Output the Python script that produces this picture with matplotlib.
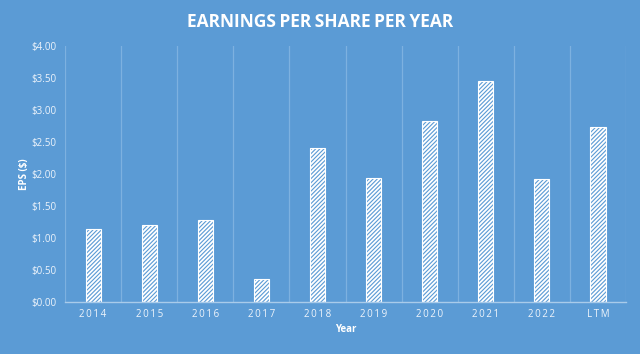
import matplotlib
matplotlib.use("Agg")
import matplotlib.pyplot as plt
from matplotlib.ticker import FuncFormatter, MultipleLocator

categories = ["2014", "2015", "2016", "2017", "2018", "2019", "2020", "2021", "2022", "LTM"]
eps = [1.13, 1.20, 1.28, 0.36, 2.40, 1.94, 2.82, 3.45, 1.92, 2.73]

BG = "#5B9BD5"
plt.rcParams['font.family'] = ['Open Sans', 'DejaVu Sans']
plt.rcParams['hatch.color'] = 'white'
plt.rcParams['hatch.linewidth'] = 1.3

fig = plt.figure(figsize=(6.4, 3.54), dpi=100, facecolor=BG)
ax = fig.add_axes([0.1016, 0.1477, 0.8766, 0.7233])
ax.set_facecolor(BG)

x = list(range(len(categories)))
ax.bar(x, eps, width=0.27, color=BG, edgecolor='white', linewidth=0.8, hatch='/' * 8)

ax.set_xlim(-0.5, len(categories) - 0.5)
ax.set_ylim(0, 4)
ax.yaxis.set_major_locator(MultipleLocator(0.5))
ax.yaxis.set_major_formatter(FuncFormatter(lambda v, p: f"${v:.2f}"))

# vertical gridlines at category boundaries
for b in [i - 0.5 for i in range(len(categories) + 1)]:
    ax.axvline(b, color='#7DB1E0', linewidth=0.9, zorder=0)

for s in ['top', 'right', 'left']:
    ax.spines[s].set_visible(False)
ax.spines['bottom'].set_color('#A9CBEA')
ax.spines['bottom'].set_linewidth(1.0)

ax.set_xticks(x)
ax.set_xticklabels(["\u2009".join(c) for c in categories])
ax.tick_params(axis='both', length=0, colors='#EEF4FB', labelsize=7)
ax.tick_params(axis='x', pad=5)
ax.tick_params(axis='y', pad=6)

ax.set_xlabel("Year", color='white', fontsize=7, fontweight='bold', labelpad=3)
ax.set_ylabel("EPS ($)", color='white', fontsize=7, fontweight='bold', labelpad=1)

fig.text(0.5, 0.938, "EARNINGS\u2009PER\u2009SHARE\u2009PER\u2009YEAR", ha='center', va='center',
         color='white', fontsize=12.5, fontweight='bold')

fig.savefig("out.png", dpi=100, facecolor=BG)
